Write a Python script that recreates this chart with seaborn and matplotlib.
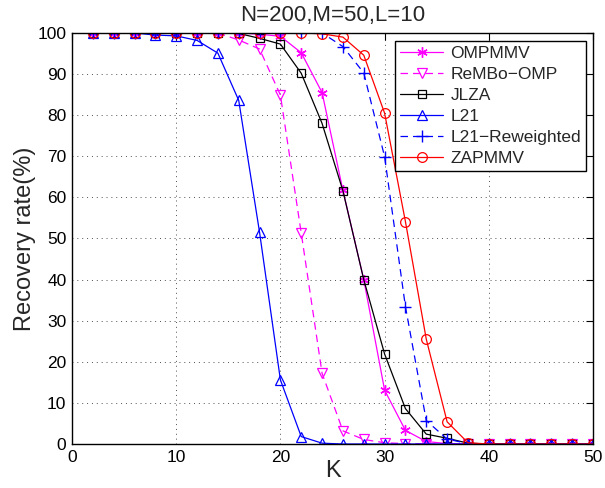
import numpy as np
import pandas as pd
import matplotlib
matplotlib.use("Agg")
import matplotlib.pyplot as plt
import seaborn as sns

K = list(range(2, 51, 2))
ompmmv = [100, 100, 100, 100, 100, 100, 100, 100, 99.7, 99.2, 95.2, 85.5, 61.7, 40.0, 13.1, 3.3, 0.6,
          0.1, 0, 0, 0, 0, 0, 0, 0]
rembo = [100, 100, 100, 100, 100, 100, 100, 98.3, 96.1, 84.9, 51.3, 17.2, 3.2, 1.1, 0.3, 0.1, 0,
         0, 0, 0, 0, 0, 0, 0, 0]
jlza = [100, 100, 100, 100, 100, 100, 100, 99.9, 98.7, 97.3, 90.2, 78.0, 61.6, 40.0, 21.9, 8.6, 2.4,
        1.4, 0.2, 0, 0, 0, 0, 0, 0]
l21 = [100, 100, 100, 99.5, 99.3, 98.2, 95.1, 83.6, 51.5, 15.6, 1.8, 0.2, 0, 0, 0, 0, 0,
       0, 0, 0, 0, 0, 0, 0, 0]
l21rw = [100, 100, 100, 100, 100, 100, 100, 100, 100, 100, 100, 100, 96.7, 90.3, 69.9, 33.4, 5.7,
         1.2, 0.1, 0, 0, 0, 0, 0, 0]
zapmmv = [100, 100, 100, 100, 100, 100, 100, 100, 100, 100, 100, 99.8, 99.0, 94.6, 80.5, 54.1, 25.5,
          5.4, 0.3, 0, 0, 0, 0, 0, 0]

names = ["OMPMMV", "ReMBo\u2212OMP", "JLZA", "L21", "L21\u2212Reweighted", "ZAPMMV"]
series = [ompmmv, rembo, jlza, l21, l21rw, zapmmv]

title = "N=200,M=50,L=10"
xlabel = "K"
ylabel = "Recovery rate(%)"
xticks = [0, 10, 20, 30, 40, 50]
yticks = [0, 10, 20, 30, 40, 50, 60, 70, 80, 90, 100]

df = pd.concat([pd.DataFrame({"K": K, "rate": s, "method": n}) for n, s in zip(names, series)])

styles = {
    names[0]: dict(color="#ff00ff", marker=(6, 2, 0), ls="-", ms=7.5, mew=1.0),
    names[1]: dict(color="#ff00ff", marker="v", ls=(0, (6, 4)), ms=7.5, mew=0.9),
    names[2]: dict(color="#000000", marker="s", ls="-", ms=6, mew=0.9),
    names[3]: dict(color="#0000ff", marker="^", ls="-", ms=7.5, mew=0.9),
    names[4]: dict(color="#0000ff", marker="+", ls=(0, (6, 4)), ms=8.5, mew=1.0),
    names[5]: dict(color="#ff0000", marker="o", ls="-", ms=7, mew=0.9),
}

sns.set_theme(style="white")
plt.rcParams["font.family"] = ["Liberation Sans", "DejaVu Sans"]

fig = plt.figure(figsize=(6.05, 4.88), dpi=100)
ax = fig.add_axes([72 / 605, 1 - 444 / 488, (593 - 72) / 605, (444 - 33) / 488])

for n in names:
    st = styles[n]
    sub = df[df["method"] == n]
    sns.lineplot(data=sub, x="K", y="rate", ax=ax, color=st["color"], marker=st["marker"],
                 linestyle=st["ls"], markersize=st["ms"], markeredgewidth=st["mew"],
                 markerfacecolor="none", markeredgecolor=st["color"], linewidth=0.9,
                 label=n, legend=False, errorbar=None)

ax.set_xlim(0, 50)
ax.set_ylim(0, 100)
ax.set_xticks(xticks)
ax.set_yticks(yticks)
ax.tick_params(direction="in", length=5, width=0.8, top=True, right=True, labelsize=12.5,
               colors="black", pad=4)
for sp in ax.spines.values():
    sp.set_color("black")
    sp.set_linewidth(1.0)
ax.grid(True, linestyle=(0, (1, 4)), color="#505050", linewidth=0.7)
ax.set_axisbelow(True)
ax.set_title(title, fontsize=16, pad=9)
ax.set_xlabel(xlabel, fontsize=17, labelpad=-3)
ax.set_ylabel(ylabel, fontsize=17, labelpad=1)

leg = ax.legend(loc="upper right", bbox_to_anchor=(0.987, 0.981), borderaxespad=0,
                fontsize=12.5, frameon=True, fancybox=False, framealpha=1,
                edgecolor="black", handlelength=2.5, labelspacing=0.33, markerscale=1.0,
                borderpad=0.3, handletextpad=0.4)
leg.get_frame().set_linewidth(1.0)

fig.savefig("out.png", dpi=100)
